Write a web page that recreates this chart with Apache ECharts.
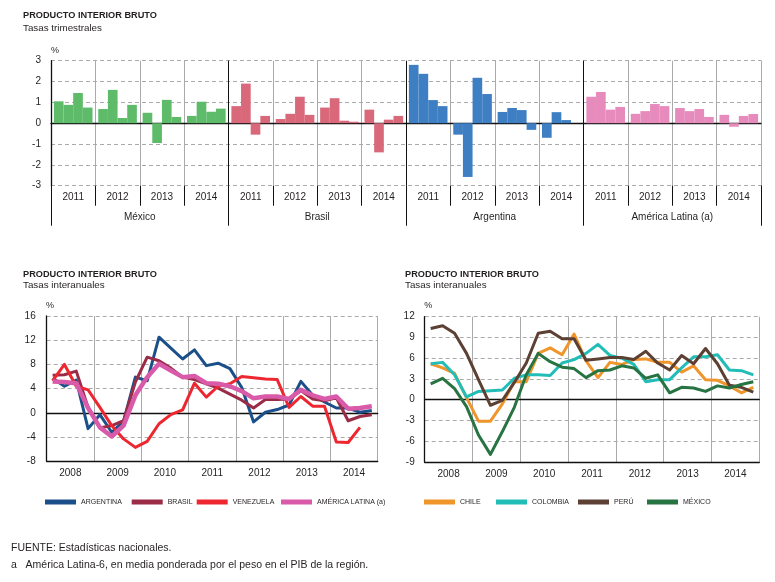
<!DOCTYPE html>
<html>
<head>
<meta charset="utf-8">
<script src="https://cdn.jsdelivr.net/npm/echarts@6/dist/echarts.min.js"></script>
<style>
html,body{margin:0;padding:0;background:#fff;}
#c{width:775px;height:582px;}
</style>
</head>
<body>
<div id="c"></div>
<script>
// ---------- Top chart: quarterly rates (4 quarters x 4 years per country) ----------
const barYears = ['2011', '2012', '2013', '2014'];
const barCountries = ['México', 'Brasil', 'Argentina', 'América Latina (a)'];
const mexicoQ = [1.05, 0.88, 1.45, 0.75, 0.68, 1.6, 0.25, 0.88, 0.5, -0.95, 1.12, 0.3, 0.35, 1.03, 0.55, 0.7];
const brasilQ = [0.82, 1.9, -0.55, 0.35, 0.2, 0.45, 1.27, 0.4, 0.75, 1.2, 0.12, 0.07, 0.65, -1.4, 0.17, 0.35];
const argentinaQ = [2.8, 2.37, 1.11, 0.82, -0.55, -2.58, 2.18, 1.4, 0.54, 0.73, 0.63, -0.32, -0.7, 0.53, 0.15, null];
const americaLatinaQ = [1.27, 1.5, 0.65, 0.78, 0.45, 0.58, 0.92, 0.82, 0.73, 0.58, 0.68, 0.3, 0.4, -0.17, 0.35, 0.44];

// ---------- Bottom charts: year-on-year rates, 2008Q1 .. 2014Q4 ----------
const lineYears = ['2008', '2009', '2010', '2011', '2012', '2013', '2014'];
const argentinaA = [5.7, 4.4, 5.4, -2.6, -0.3, -3.2, -1.4, 5.9, 5.3, 12.5, 10.7, 8.9, 10.4, 7.8, 8.2, 7.3, 4.2, -1.5, 0.1, 0.55, 1.3, 5.2, 2.9, 1.8, 0.8, 0.8, 0.1, 0.4];
const brasilA = [6.2, 6.3, 6.9, 0.9, -2.5, -2.1, -1.3, 5.1, 9.2, 8.6, 7.4, 5.9, 5.5, 4.8, 4.1, 3.1, 2.1, 0.8, 2.2, 2.2, 2.3, 3.7, 2.3, 2.0, 2.5, -1.3, -0.6, -0.3];
const venezuelaA = [5.3, 8.0, 4.4, 3.8, 0.9, -2.1, -4.3, -5.7, -4.7, -1.8, -0.3, 0.5, 4.9, 2.6, 4.4, 4.8, 6.0, 5.8, 5.6, 5.5, 0.9, 2.7, 1.1, 1.1, -4.8, -4.9, -2.4, null];
const americaLatinaA = [5.2, 5.1, 4.9, 0.8, -2.4, -3.9, -2.1, 2.9, 5.9, 8.1, 7.0, 5.9, 6.1, 4.9, 4.8, 4.4, 3.6, 2.4, 2.7, 2.7, 2.3, 3.8, 2.9, 2.3, 2.7, 0.7, 0.8, 1.1];

const chileA = [5.2, 4.6, 3.8, 0.3, -3.1, -3.1, -0.6, 2.6, 2.6, 6.7, 7.5, 6.5, 9.5, 5.6, 3.2, 5.4, 5.1, 5.8, 5.9, 5.4, 5.4, 4.0, 4.9, 2.9, 2.8, 2.0, 1.0, 1.8];
const colombiaA = [5.2, 5.4, 3.6, 0.4, 1.2, 1.3, 1.4, 3.1, 3.6, 3.6, 3.5, 5.3, 5.8, 6.7, 8.0, 6.4, 6.0, 5.1, 2.6, 2.9, 2.9, 4.6, 6.2, 6.2, 6.5, 4.3, 4.2, 3.6];
const peruA = [10.3, 10.7, 9.6, 6.7, 2.9, -0.8, -0.1, 2.5, 5.3, 9.6, 9.9, 8.8, 8.8, 5.7, 5.9, 6.1, 6.1, 5.8, 7.0, 5.3, 4.3, 6.4, 5.2, 7.4, 5.2, 2.1, 1.8, 1.1];
const mexicoA = [2.3, 3.1, 1.6, -1.0, -5.1, -7.9, -4.6, -1.1, 3.6, 6.7, 5.5, 4.7, 4.5, 3.2, 4.2, 4.3, 4.9, 4.6, 3.1, 3.6, 1.0, 1.8, 1.7, 1.2, 2.0, 1.7, 2.2, 2.6];

const leftNames = ['ARGENTINA', 'BRASIL', 'VENEZUELA', 'AMÉRICA LATINA (a)'];
const rightNames = ['CHILE', 'COLOMBIA', 'PERÚ', 'MÉXICO'];

// ---------- build ----------
const TXT = '#231f20';
const FONT = 'Liberation Sans, Arial, sans-serif';
const barColors = ['#5dbb6a', '#d9687a', '#3e7fc3', '#e68bbc'];
const leftColors = ['#1b4f8a', '#9a2c48', '#ec2730', '#d95aa8'];
const rightColors = ['#f0952b', '#22bdb6', '#5c4033', '#277442'];

const countryQ = [mexicoQ, brasilQ, argentinaQ, americaLatinaQ];
const yearCats16 = [];
barCountries.forEach(() => barYears.forEach(y => yearCats16.push(y)));
const quarters = [];
lineYears.forEach(y => { for (let q = 1; q <= 4; q++) quarters.push(y + '-T' + q); });

const barSeries = [];
for (let q = 0; q < 4; q++) {
  const data = [];
  for (let c = 0; c < 4; c++) {
    for (let y = 0; y < 4; y++) {
      data.push({ value: countryQ[c][y * 4 + q], itemStyle: { color: barColors[c] } });
    }
  }
  barSeries.push({
    type: 'bar', name: 'T' + (q + 1), xAxisIndex: 0, yAxisIndex: 0,
    data: data, barGap: '0%', barCategoryGap: '13%', silent: true
  });
}

function lineSeries(name, data, color, width, xi, yi) {
  return {
    type: 'line', name: name, data: data, xAxisIndex: xi, yAxisIndex: yi,
    showSymbol: false, symbol: 'none', connectNulls: false, silent: true,
    lineStyle: { color: color, width: width, join: 'round' }, itemStyle: { color: color }
  };
}

const leftData = [argentinaA, brasilA, venezuelaA, americaLatinaA];
const rightData = [chileA, colombiaA, peruA, mexicoA];
const lineS = [];
leftNames.forEach((n, i) => lineS.push(lineSeries(n, leftData[i], leftColors[i], i === 3 ? 4.5 : 3, 3, 1)));
rightNames.forEach((n, i) => lineS.push(lineSeries(n, rightData[i], rightColors[i], 3, 5, 2)));

const gridLine = { show: true, lineStyle: { color: '#aaaaaa', type: [4, 3], width: 1 } };
const solidGray = { show: true, lineStyle: { color: '#aaaaaa', type: 'solid', width: 1 } };
const axisLbl = { color: TXT, fontSize: 10, fontFamily: FONT };

function legendItem(name, left, top) {
  return {
    data: [name], left: left, top: top, padding: 0, itemGap: 0,
    icon: 'rect', itemWidth: 31, itemHeight: 5, selectedMode: false,
    textStyle: { color: TXT, fontSize: 7, fontFamily: FONT, padding: [1, 0, 0, 0] }
  };
}

function txt(t, x, y, size, bold) {
  return {
    type: 'text', x: x, y: y, silent: true,
    style: { text: t, fill: TXT, font: (bold ? 'bold ' : '') + size + 'px ' + FONT, verticalAlign: 'middle', align: 'left' }
  };
}

const option = {
  animation: false,
  backgroundColor: '#ffffff',
  grid: [
    { left: 51, top: 60.7, width: 710, height: 125 },
    { left: 46.7, top: 316, width: 331, height: 145.3 },
    { left: 424.7, top: 316.7, width: 334.6, height: 145.3 }
  ],
  xAxis: [
    { // 0: bar data axis (years)
      type: 'category', gridIndex: 0, position: 'bottom', data: yearCats16,
      axisLine: { show: false, onZero: false },
      axisTick: { show: true, length: 20, lineStyle: { color: '#111' } },
      axisLabel: Object.assign({ margin: 7, interval: 0 }, axisLbl),
      splitLine: solidGray
    },
    { // 1: country axis
      type: 'category', gridIndex: 0, position: 'bottom', data: barCountries,
      axisLine: { show: false, onZero: false },
      axisTick: { show: true, length: 40, lineStyle: { color: '#111' } },
      axisLabel: Object.assign({ margin: 27, interval: 0 }, axisLbl),
      splitLine: { show: true, lineStyle: { color: ['#111', '#111', '#111', '#111', '#aaaaaa'], width: 1 } }
    },
    { // 2: zero line for bar chart
      type: 'category', gridIndex: 0, position: 'bottom', data: yearCats16,
      axisLine: { show: true, onZero: true, lineStyle: { color: '#111', width: 1.3 } },
      axisTick: { show: false }, axisLabel: { show: false }, splitLine: { show: false }
    },
    { // 3: left line chart quarters (zero line)
      type: 'category', gridIndex: 1, position: 'bottom', data: quarters, boundaryGap: true,
      axisLine: { show: true, onZero: true, lineStyle: { color: '#111', width: 1.3 } },
      axisTick: { show: false }, axisLabel: { show: false }, splitLine: { show: false }
    },
    { // 4: left line chart years
      type: 'category', gridIndex: 1, position: 'bottom', data: lineYears,
      axisLine: { show: true, onZero: false, lineStyle: { color: '#111', width: 1.3 } },
      axisTick: { show: false },
      axisLabel: Object.assign({ margin: 7, interval: 0 }, axisLbl),
      splitLine: solidGray
    },
    { // 5: right line chart quarters (zero line)
      type: 'category', gridIndex: 2, position: 'bottom', data: quarters, boundaryGap: true,
      axisLine: { show: true, onZero: true, lineStyle: { color: '#111', width: 1.3 } },
      axisTick: { show: false }, axisLabel: { show: false }, splitLine: { show: false }
    },
    { // 6: right line chart years
      type: 'category', gridIndex: 2, position: 'bottom', data: lineYears,
      axisLine: { show: true, onZero: false, lineStyle: { color: '#111', width: 1.3 } },
      axisTick: { show: false },
      axisLabel: Object.assign({ margin: 7, interval: 0 }, axisLbl),
      splitLine: solidGray
    }
  ],
  yAxis: [
    {
      type: 'value', gridIndex: 0, min: -3, max: 3, interval: 1,
      axisLine: { show: true, onZero: false, lineStyle: { color: '#111', width: 1.3 } },
      axisTick: { show: false }, axisLabel: Object.assign({ margin: 10 }, axisLbl),
      splitLine: gridLine
    },
    {
      type: 'value', gridIndex: 1, min: -8, max: 16, interval: 4,
      axisLine: { show: true, onZero: false, lineStyle: { color: '#111', width: 1.3 } },
      axisTick: { show: false }, axisLabel: Object.assign({ margin: 11 }, axisLbl),
      splitLine: gridLine
    },
    {
      type: 'value', gridIndex: 2, min: -9, max: 12, interval: 3,
      axisLine: { show: true, onZero: false, lineStyle: { color: '#111', width: 1.3 } },
      axisTick: { show: false }, axisLabel: Object.assign({ margin: 10 }, axisLbl),
      splitLine: gridLine
    }
  ],
  legend: [
    legendItem(leftNames[0], 45, 498.5),
    legendItem(leftNames[1], 131.7, 498.5),
    legendItem(leftNames[2], 196.7, 498.5),
    legendItem(leftNames[3], 281, 498.5),
    legendItem(rightNames[0], 424, 498.5),
    legendItem(rightNames[1], 496, 498.5),
    legendItem(rightNames[2], 578, 498.5),
    legendItem(rightNames[3], 647, 498.5)
  ],
  graphic: [
    txt('PRODUCTO INTERIOR BRUTO', 23, 15.7, 9.2, true),
    txt('Tasas trimestrales', 23, 28, 9.8, false),
    txt('%', 51, 51, 9, false),
    txt('PRODUCTO INTERIOR BRUTO', 23, 274, 9.2, true),
    txt('Tasas interanuales', 23, 285.5, 9.8, false),
    txt('%', 46, 305.7, 9, false),
    txt('PRODUCTO INTERIOR BRUTO', 405, 274, 9.2, true),
    txt('Tasas interanuales', 405, 285.5, 9.8, false),
    txt('%', 424.3, 305.7, 9, false),
    txt('FUENTE: Estadísticas nacionales.', 11, 548, 10.5, false),
    txt('a   América Latina-6, en media ponderada por el peso en el PIB de la región.', 11, 565, 10.5, false)
  ],
  series: barSeries.concat(lineS)
};

const chart = echarts.init(document.getElementById('c'), null, { renderer: 'canvas' });
chart.setOption(option);
</script>
</body>
</html>
